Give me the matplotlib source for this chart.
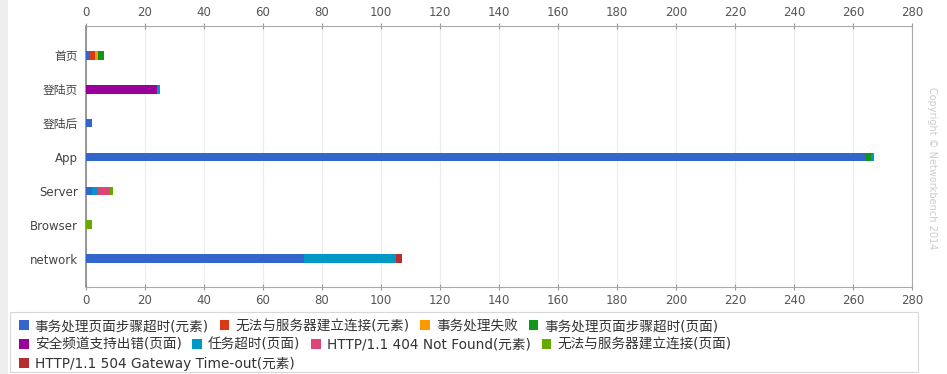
import matplotlib
matplotlib.use("Agg")
import matplotlib.pyplot as plt
from matplotlib.patches import Rectangle, Patch
import numpy as np

plt.rcParams['font.family'] = ['DejaVu Sans', 'Noto Sans CJK SC']

categories = ['首页', '登陆页', '登陆后', 'App', 'Server', 'Browser', 'network']

series_names = [
    '事务处理页面步骤超时(元素)',
    '无法与服务器建立连接(元素)',
    '事务处理失败',
    '事务处理页面步骤超时(页面)',
    '安全频道支持出错(页面)',
    '任务超时(页面)',
    'HTTP/1.1 404 Not Found(元素)',
    '无法与服务器建立连接(页面)',
    'HTTP/1.1 504 Gateway Time-out(元素)',
]
colors = ['#3366cc', '#dc3912', '#ff9900', '#109618', '#990099',
          '#0099c6', '#dd4477', '#66aa00', '#b82e2e']

# counts per category, one list per error type
step_timeout_elem = [1, 0, 2, 264, 2, 0, 74]
conn_fail_elem    = [2, 0, 0, 0, 0, 0, 0]
txn_failed        = [1, 0, 0, 0, 0, 0, 0]
step_timeout_page = [2, 0, 0, 2, 0, 0, 0]
ssl_error_page    = [0, 24, 0, 0, 0, 0, 0]
task_timeout_page = [0, 1, 0, 1, 2, 0, 31]
http404_elem      = [0, 0, 0, 0, 4, 0, 0]
conn_fail_page    = [0, 0, 0, 0, 1, 2, 0]
http504_elem      = [0, 0, 0, 0, 0, 0, 2]

series = [step_timeout_elem, conn_fail_elem, txn_failed, step_timeout_page,
          ssl_error_page, task_timeout_page, http404_elem, conn_fail_page,
          http504_elem]

fig = plt.figure(figsize=(9.47, 3.74), dpi=100)
fig.patches.append(Rectangle((0, 0), 8 / 947, 1, transform=fig.transFigure,
                             facecolor='#eeeeee', edgecolor='none', zorder=0))

ax = fig.add_axes([86 / 947, 1 - 287 / 374, 826 / 947, 261 / 374])
y = np.arange(len(categories))
left = np.zeros(len(categories))
for name, vals, c in zip(series_names, series, colors):
    vals = np.array(vals, dtype=float)
    ax.barh(y, vals, left=left, height=0.26, color=c, label=name, zorder=3)
    left += vals

ax.set_xlim(0, 280)
ax.set_ylim(len(categories) - 1 + 0.83, -0.86)
ax.set_xticks(np.arange(0, 281, 20))
ax.set_yticks(y)
ax.set_yticklabels(categories)
ax.xaxis.grid(True, color='#ececec', linewidth=0.8, zorder=0)
ax.tick_params(axis='x', top=True, labeltop=True, bottom=True, labelbottom=True,
               direction='inout', length=4, width=0.8, color='#999999',
               labelsize=8.5, labelcolor='#555555', pad=3)
ax.tick_params(axis='y', length=0, labelsize=8.5, labelcolor='#444444', pad=6)
for side in ['top', 'bottom', 'right']:
    ax.spines[side].set_color('#aaaaaa')
ax.spines['left'].set_color('#888888')
ax.spines['left'].set_linewidth(1.2)

# legend: three rows in one frame
fig.patches.append(Rectangle((10 / 947, 1 - 372 / 374), 908 / 947, 60 / 374,
                             transform=fig.transFigure, facecolor='white',
                             edgecolor='#d8d8d8', linewidth=0.8, zorder=1))
rows = [[0, 1, 2, 3], [4, 5, 6, 7], [8]]
row_y = [326, 345, 364]
for idx, ry in zip(rows, row_y):
    handles = [Patch(facecolor=colors[i], edgecolor='none') for i in idx]
    labels = [series_names[i] for i in idx]
    leg = fig.legend(handles, labels, ncol=len(idx), frameon=False,
                     loc='center left', bbox_to_anchor=(19 / 947, 1 - ry / 374),
                     fontsize=9.8, handlelength=0.7, handleheight=0.7,
                     handletextpad=0.45, columnspacing=0.8, borderpad=0,
                     borderaxespad=0)
    for t in leg.get_texts():
        t.set_color('#333333')

fig.text(932 / 947, 1 - 168 / 374, 'Copyright © Networkbench 2014',
         rotation=-90, ha='center', va='center', fontsize=7, color='#cccccc')

fig.savefig('out.png', dpi=100)
